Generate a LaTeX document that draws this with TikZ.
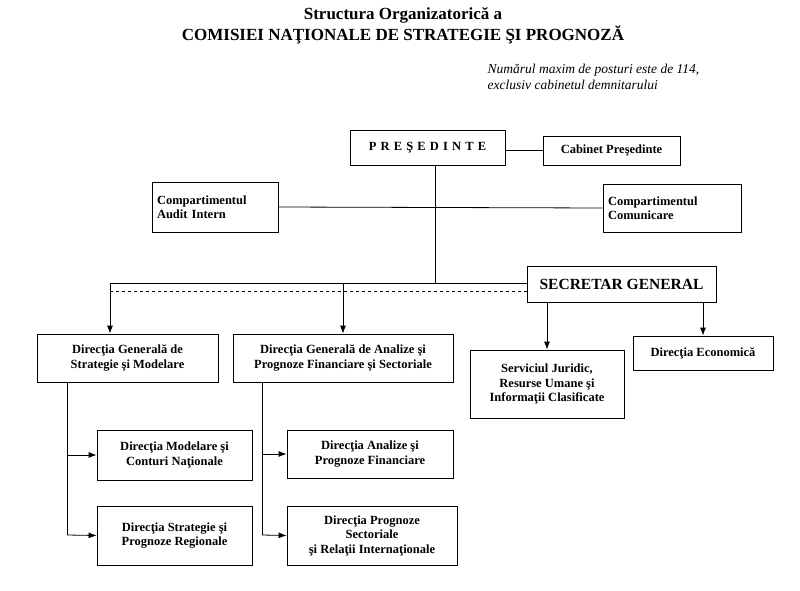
\documentclass[tikz,border=0pt]{standalone}
\usepackage{fontspec}
\setmainfont{Liberation Serif}
\usetikzlibrary{positioning,arrows.meta}
\tikzset{
  unit/.style={draw, thick, font=\bfseries\fontsize{12.5}{14.5}\selectfont, align=center, inner sep=2pt},
}
\begin{document}
\begin{tikzpicture} [>={Latex[length=8pt,width=6pt]}, x=1pt, y=-1pt, line width=0.8pt]
	\useasboundingbox (0,0) rectangle (800,591);
	\node [font=\bfseries\fontsize{17}{21}\selectfont, align=center] (title) at (403,26) {Structura Organizatoric\u{a} a\\COMISIEI NA\c{T}IONALE DE STRATEGIE \c{S}I PROGNOZ\u{A}};
	\node [font=\itshape\fontsize{13.5}{16}\selectfont, align=left, anchor=north west] (note) at (484,60) {Num\u{a}rul maxim de posturi este de 114,\\exclusiv cabinetul demnitarului};
	\node [unit, minimum width=155, minimum height=35] (pres) at (427.5,147.5) {P\,\,R\,\,E\,\,\c{S}\,\,E\,\,D\,\,I\,\,N\,\,T\,\,E};
	\node [unit, minimum width=137, minimum height=29] (cab) at (611.5,150.5) {Cabinet Pre\c{s}edinte};
	\node [unit, minimum width=126, minimum height=50, align=left, text width=116] (audit) at (215,207) {Compartimentul\\Audit Intern};
	\node [unit, minimum width=138, minimum height=48, align=left, text width=128] (com) at (672,208) {Compartimentul\\Comunicare};
	\node [unit, font=\bfseries\fontsize{15.5}{18}\selectfont, minimum width=189, minimum height=36] (sec) at (621.5,284) {SECRETAR GENERAL};
	\node [unit, minimum width=181, minimum height=48] (dgs) at (127.5,358) {Direc\c{t}ia General\u{a} de\\Strategie \c{s}i Modelare};
	\node [unit, minimum width=220, minimum height=48] (dga) at (343,358) {Direc\c{t}ia General\u{a} de Analize \c{s}i\\Prognoze Financiare \c{s}i Sectoriale};
	\node [unit, minimum width=154, minimum height=68] (jur) at (547,384) {Serviciul Juridic,\\Resurse Umane \c{s}i\\Informa\c{t}ii Clasificate};
	\node [unit, minimum width=140, minimum height=34] (eco) at (703,353) {Direc\c{t}ia Economic\u{a}};
	\node [unit, minimum width=155, minimum height=50] (mod) at (174.5,455) {Direc\c{t}ia Modelare \c{s}i\\Conturi Na\c{t}ionale};
	\node [unit, minimum width=155, minimum height=59] (str) at (174.5,535.5) {Direc\c{t}ia Strategie \c{s}i\\Prognoze Regionale};
	\node [unit, minimum width=166, minimum height=48] (anf) at (370,454) {Direc\c{t}ia Analize \c{s}i\\Prognoze Financiare};
	\node [unit, minimum width=170, minimum height=59] (prs) at (372,535.5) {Direc\c{t}ia Prognoze\\Sectoriale\\\c{s}i Rela\c{t}ii Interna\c{t}ionale};
	% coordinates of the bus lines
	\coordinate (bus) at (435,283);
	\coordinate (busl) at (110,283);
	\coordinate (busm) at (343,283);
	\coordinate (dl) at (110,291);
	\coordinate (treel) at (67,535);
	\coordinate (treem) at (262,535);
	\draw (cab.west -| pres.east) -- (cab.west);
	\draw (pres.south -| bus) -- (bus);
	\draw (audit.east) -- (com.west);
	\draw (busl) -- (bus -| sec.west);
	\draw [dashed] (dl) -- (dl -| sec.west);
	\draw [->] (busl) -- (busl |- dgs.north);
	\draw [->] (busm) -- (dga.north);
	\draw [->] (sec.south -| jur.north) -- (jur.north);
	\draw [->] (sec.south -| eco.north) -- (eco.north);
	\draw (dgs.south -| treel) -- (treel);
	\draw [->] (mod.west -| treel) -- (mod.west);
	\draw [->] (treel) -- (str.west);
	\draw (dga.south -| treem) -- (treem);
	\draw [->] (anf.west -| treem) -- (anf.west);
	\draw [->] (treem) -- (prs.west);
\end{tikzpicture}
\end{document}
